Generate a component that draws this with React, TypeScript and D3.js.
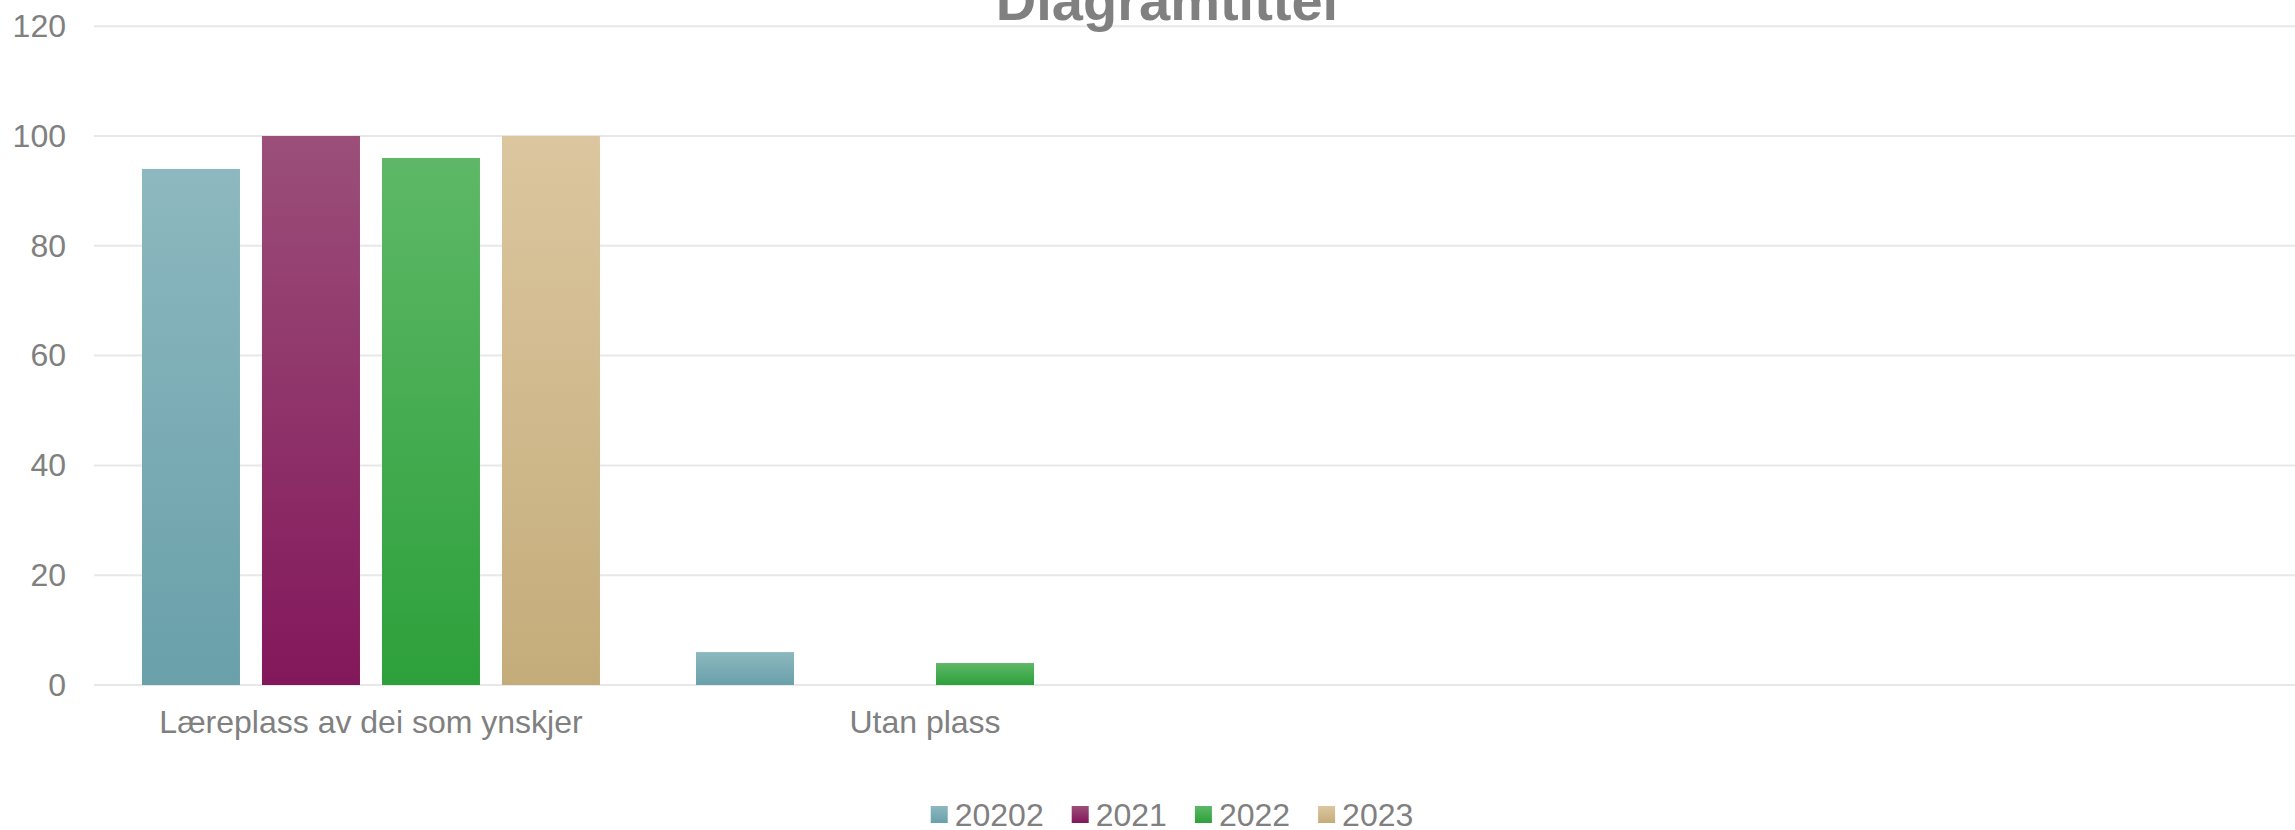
import { useEffect, useRef } from "react";
import * as d3 from "d3";

const width = 2295;
const height = 830;

const title = "Diagramtittel";
const categories = ["Læreplass av dei som ynskjer", "Utan plass", "", ""];
const seriesNames = ["20202", "2021", "2022", "2023"];
const values20202 = [94, 6, 0, 0];
const values2021 = [100, 0, 0, 0];
const values2022 = [96, 4, 0, 0];
const values2023 = [100, 0, 0, 0];
const yTicks = [0, 20, 40, 60, 80, 100, 120];

// top / bottom of each bar's gradient
const gradients = [
  ["#8db8bf", "#69a0aa"],
  ["#9b4f79", "#83175b"],
  ["#5eb867", "#2da03b"],
  ["#dcc69f", "#c4ac7a"],
];

const textColor = "#808080";
const gridColor = "#e8e8e8";
const font = "'Liberation Sans', Arial, sans-serif";

export default function App() {
  const ref = useRef<SVGSVGElement | null>(null);

  useEffect(() => {
    document.body.style.margin = "0";
    document.body.style.overflow = "hidden";

    const svg = d3.select(ref.current);
    svg.selectAll("*").remove();

    const series = [values20202, values2021, values2022, values2023];

    const defs = svg.append("defs");
    gradients.forEach((g, i) => {
      const lg = defs
        .append("linearGradient")
        .attr("id", `grad${i}`)
        .attr("x1", 0)
        .attr("y1", 0)
        .attr("x2", 0)
        .attr("y2", 1);
      lg.append("stop").attr("offset", "0%").attr("stop-color", g[0]);
      lg.append("stop").attr("offset", "100%").attr("stop-color", g[1]);
    });

    const x0 = d3
      .scaleBand<number>()
      .domain(d3.range(categories.length))
      .range([94, 2310])
      .paddingInner(0.1733)
      .paddingOuter(0.0866);

    const x1 = d3
      .scaleBand<number>()
      .domain(d3.range(seriesNames.length))
      .range([0, x0.bandwidth()])
      .paddingInner(0.1833);

    const y = d3.scaleLinear().domain([0, 120]).range([685, 26.2]);

    // gridlines
    svg
      .append("g")
      .selectAll("line")
      .data(yTicks)
      .enter()
      .append("line")
      .attr("x1", 94)
      .attr("x2", 2310)
      .attr("y1", (d) => y(d))
      .attr("y2", (d) => y(d))
      .style("stroke", gridColor)
      .style("stroke-width", 2);

    // y labels
    svg
      .append("g")
      .selectAll("text")
      .data(yTicks)
      .enter()
      .append("text")
      .attr("x", 66)
      .attr("y", (d) => y(d))
      .attr("dy", "0.34em")
      .attr("text-anchor", "end")
      .style("font-family", font)
      .style("font-size", "32px")
      .style("fill", textColor)
      .text((d) => d);

    // bars
    const groups = svg
      .append("g")
      .selectAll("g")
      .data(categories.map((_, i) => i))
      .enter()
      .append("g")
      .attr("transform", (i) => `translate(${x0(i)},0)`);

    groups
      .selectAll("rect")
      .data((ci) => series.map((s, si) => ({ si, v: s[ci] })))
      .enter()
      .append("rect")
      .attr("x", (d) => x1(d.si) as number)
      .attr("y", (d) => y(d.v))
      .attr("width", x1.bandwidth())
      .attr("height", (d) => y(0) - y(d.v))
      .style("fill", (d) => `url(#grad${d.si})`);

    // category labels
    svg
      .append("g")
      .selectAll("text")
      .data(categories.map((c, i) => ({ c, i })))
      .enter()
      .append("text")
      .attr("x", (d) => (x0(d.i) as number) + x0.bandwidth() / 2)
      .attr("y", 733)
      .attr("text-anchor", "middle")
      .style("font-family", font)
      .style("font-size", "32px")
      .style("fill", textColor)
      .text((d) => d.c);

    // title
    svg
      .append("text")
      .attr("x", 1167)
      .attr("y", 20)
      .attr("text-anchor", "middle")
      .style("font-family", font)
      .style("font-size", "56px")
      .style("font-weight", "bold")
      .style("fill", textColor)
      .text(title);

    // legend
    const legend = svg.append("g");
    const items = seriesNames.map((name, i) => {
      const g = legend.append("g");
      g.append("rect")
        .attr("x", 0)
        .attr("y", 806)
        .attr("width", 17)
        .attr("height", 17)
        .style("fill", `url(#grad${i})`);
      const t = g
        .append("text")
        .attr("x", 24)
        .attr("y", 826)
        .style("font-family", font)
        .style("font-size", "32px")
        .style("fill", textColor)
        .text(name);
      const w = 24 + (t.node() as SVGTextElement).getComputedTextLength();
      return { g, w };
    });
    const total = d3.sum(items, (d) => d.w) + 28 * (items.length - 1);
    let cx = 1172 - total / 2;
    items.forEach((it) => {
      it.g.attr("transform", `translate(${cx},0)`);
      cx += it.w + 28;
    });
  }, []);

  return (
    <svg
      ref={ref}
      width={width}
      height={height}
      style={{ display: "block", position: "absolute", left: 0, top: 0, background: "#fff" }}
    />
  );
}
